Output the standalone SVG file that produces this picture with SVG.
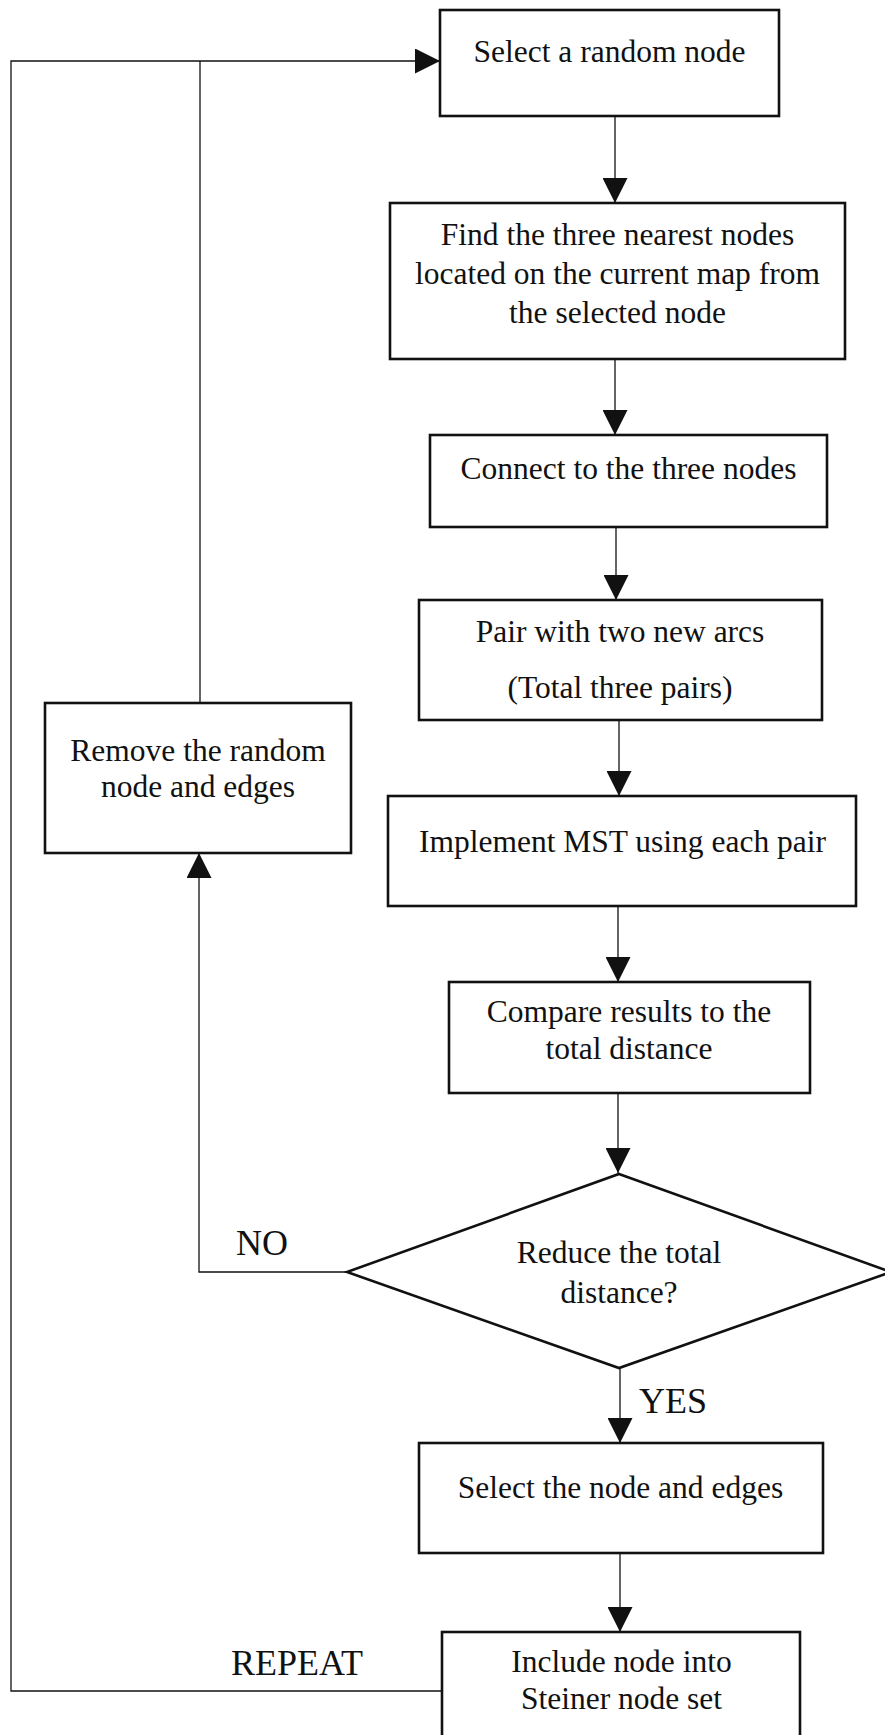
<svg xmlns="http://www.w3.org/2000/svg" width="885" height="1735" viewBox="0 0 885 1735">
<style>
.box{fill:#fff;stroke:#111;stroke-width:2.6}
.ln{fill:none;stroke:#111;stroke-width:1.3}
.t{font-family:"Liberation Serif","Times New Roman",serif;font-size:31.5px;fill:#111;text-anchor:middle}
.lbl{font-family:"Liberation Serif","Times New Roman",serif;font-size:36px;fill:#111}
</style>
<defs>
<marker id="ah" viewBox="0 0 10 10" refX="10" refY="5" markerWidth="25" markerHeight="25" markerUnits="userSpaceOnUse" orient="auto">
<path d="M0,0 L10,5 L0,10 z" fill="#111"/>
</marker>
</defs>
<rect width="885" height="1735" fill="#fff"/>
<g id="connectors">
<path class="ln" d="M615,116 V203" marker-end="url(#ah)"/>
<path class="ln" d="M615,359 V435" marker-end="url(#ah)"/>
<path class="ln" d="M616,527 V600" marker-end="url(#ah)"/>
<path class="ln" d="M619,720 V796" marker-end="url(#ah)"/>
<path class="ln" d="M618,906 V982" marker-end="url(#ah)"/>
<path class="ln" d="M618,1093 V1173" marker-end="url(#ah)"/>
<path class="ln" d="M620,1368 V1443" marker-end="url(#ah)"/>
<path class="ln" d="M620,1553 V1632" marker-end="url(#ah)"/>
<path class="ln" d="M347,1272 H199 V853" marker-end="url(#ah)"/>
<path class="ln" d="M200,703 V61"/>
<path class="ln" d="M442,1691 H11 V61 H440" marker-end="url(#ah)"/>
<text class="lbl" x="236" y="1255">NO</text>
<text class="lbl" x="639" y="1413">YES</text>
<text class="lbl" x="231" y="1675">REPEAT</text>
</g>
<g id="n1"><rect class="box" x="440" y="10" width="339" height="106"/><text class="t" x="609.5" y="62">Select a random node</text></g>
<g id="n2"><rect class="box" x="390" y="203" width="455" height="156"/><text class="t" x="617.5" y="245">Find the three nearest nodes</text><text class="t" x="617.5" y="284">located on the current map from</text><text class="t" x="617.5" y="323">the selected node</text></g>
<g id="n3"><rect class="box" x="430" y="435" width="397" height="92"/><text class="t" x="628.5" y="479">Connect to the three nodes</text></g>
<g id="n4"><rect class="box" x="419" y="600" width="403" height="120"/><text class="t" x="620" y="642">Pair with two new arcs</text><text class="t" x="620" y="698">(Total three pairs)</text></g>
<g id="n5"><rect class="box" x="388" y="796" width="468" height="110"/><text class="t" x="622.5" y="852">Implement MST using each pair</text></g>
<g id="n6"><rect class="box" x="449" y="982" width="361" height="111"/><text class="t" x="629" y="1022">Compare results to the</text><text class="t" x="629" y="1059">total distance</text></g>
<g id="n7"><polygon class="box" points="619,1174 891,1272 619,1368 347,1272"/><text class="t" x="619" y="1263">Reduce the total</text><text class="t" x="619" y="1303">distance?</text></g>
<g id="n8"><rect class="box" x="419" y="1443" width="404" height="110"/><text class="t" x="620.5" y="1498">Select the node and edges</text></g>
<g id="n9"><rect class="box" x="442" y="1632" width="358" height="130"/><text class="t" x="621.5" y="1672">Include node into</text><text class="t" x="621.5" y="1709">Steiner node set</text></g>
<g id="n10"><rect class="box" x="45" y="703" width="306" height="150"/><text class="t" x="198" y="761">Remove the random</text><text class="t" x="198" y="797">node and edges</text></g>
</svg>
